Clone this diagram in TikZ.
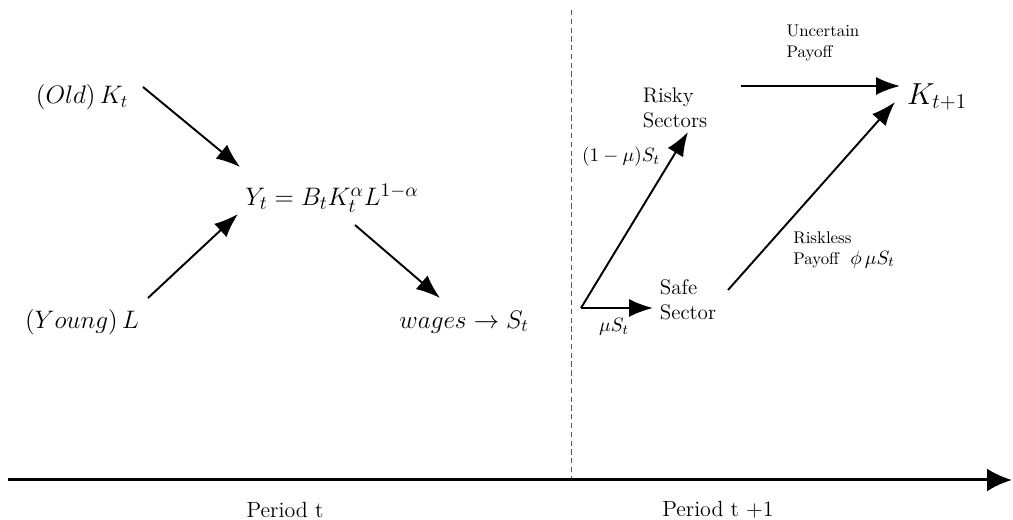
\documentclass[tikz,border=0pt]{standalone}
\usepackage{amsmath}
\usetikzlibrary{arrows.meta,calc}
\definecolor{DashClr}{rgb}{0.35,0.35,0.35}

\begin{document}
\begin{tikzpicture}[
  flow/.style={line width=1.1pt,-{Latex[length=4.8mm,width=3.6mm]}},
  mathlbl/.style={inner sep=1pt,font=\Large},
  txtlbl/.style={inner sep=1pt,align=left,font=\large},
  smalllbl/.style={inner sep=1pt,align=left,font=\fontsize{9.6}{11.5}\selectfont},
  arrlbl/.style={inner sep=1pt,font=\fontsize{11.3}{13}\selectfont},
  perlbl/.style={inner sep=1pt,font=\fontsize{12.5}{14}\selectfont}]
\useasboundingbox (0,0) rectangle (20.26,10.4);

% time axis and the border between periods
\coordinate (axisL) at (0.16,0.8);
\coordinate (axisR) at (20.24,0.8);
\coordinate (divT) at (11.42,10.2);
\coordinate (divB) at (11.42,0.8);
\draw[DashClr,densely dashed,line width=0.5pt] (divT) -- (divB);
\draw[line width=1.7pt,-{Latex[length=5mm,width=4.6mm]}] (axisL) -- (axisR);
\node[perlbl] (pt) at (5.7,0.2) {Period t};
\node[perlbl] (pt1) at (14.36,0.2) {Period t +1};

% period t
\node[mathlbl] (old) at (1.64,8.46) {$(Old)\,K_t$};
\node[mathlbl] (young) at (1.64,3.96) {$(Young)\,L$};
\node[mathlbl,font=\fontsize{15}{17}\selectfont] (Y) at (6.64,6.44) {$Y_t = B_t K_t^{\alpha} L^{1-\alpha}$};
\node[mathlbl] (wages) at (9.28,3.96) {$wages \rightarrow S_t$};

\draw[flow] ([shift={(1.22,0.2)}]old.center) -- ([shift={(-1.84,0.62)}]Y.center);
\draw[flow] ([shift={(1.32,0.48)}]young.center) -- ([shift={(-1.88,-0.32)}]Y.center);
\draw[flow] ([shift={(0.46,-0.54)}]Y.center) -- ([shift={(-0.48,0.48)}]wages.center);

% period t+1
\coordinate (split) at (11.62,4.24);
\node[txtlbl] (risky) at (13.5,8.24) {Risky\\Sectors};
\node[txtlbl] (safe) at (13.76,4.4) {Safe\\Sector};
\node[mathlbl,font=\fontsize{16.5}{18}\selectfont] (K) at (18.74,8.46) {$K_{t+1}$};

\draw[flow] (split) -- ([shift={(0.26,-0.48)}]risky.center);
\draw[flow] (split) -- ([shift={(-0.7,-0.16)}]safe.center);
\draw[flow] ([shift={(1.32,0.44)}]risky.center) -- ([shift={(-0.74,0.22)}]K.center);
\draw[flow] ([shift={(0.8,0.2)}]safe.center) -- ([shift={(-0.84,-0.1)}]K.center);

\node[arrlbl] (share) at (12.42,7.26) {$(1-\mu)S_t$};
\node[arrlbl] (musafe) at (12.28,3.86) {$\mu S_t$};
\node[smalllbl] (unc) at (16.46,9.54) {Uncertain\\Payoff};
\node[smalllbl] (rless) at (16.88,5.4) {Riskless\\Payoff~~{\fontsize{11.3}{13}\selectfont$\phi\,\mu S_t$}};
\end{tikzpicture}
\end{document}
